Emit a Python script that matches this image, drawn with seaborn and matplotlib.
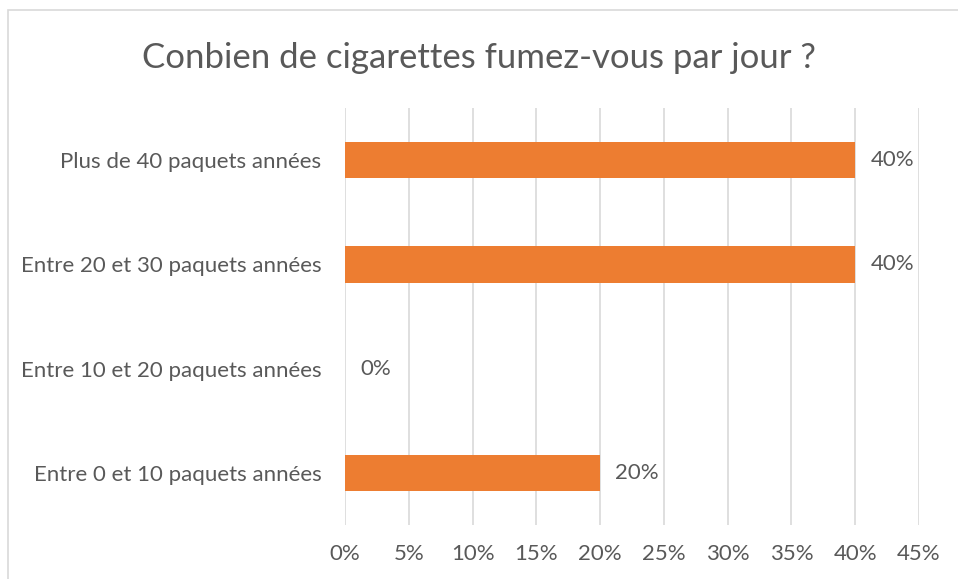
import matplotlib
matplotlib.use("Agg")
import matplotlib.pyplot as plt
import seaborn as sns
import pandas as pd
from matplotlib.patches import Rectangle
from matplotlib.ticker import FuncFormatter

# --- données ---
categories = ["Plus de 40 paquets années", "Entre 20 et 30 paquets années",
              "Entre 10 et 20 paquets années", "Entre 0 et 10 paquets années"]
valeurs = [0.40, 0.40, 0.0, 0.20]
ticks_x = [0, 0.05, 0.10, 0.15, 0.20, 0.25, 0.30, 0.35, 0.40, 0.45]

df = pd.DataFrame({"Categorie": categories, "Valeur": valeurs})

sns.set_theme(style="white")
plt.rcParams['font.family'] = ['Lato', 'DejaVu Sans']

gris_txt = "#595959"
gris_grid = "#D9D9D9"
orange = "#ED7D31"

fig = plt.figure(figsize=(9.58, 5.79), dpi=100)
W, H = 958, 579

# cadre du graphique (bord gauche + haut visibles)
fig.patches.append(Rectangle((8 / W, -0.1), 1.2, (579 - 10) / H + 0.1,
                             transform=fig.transFigure, fill=False,
                             edgecolor=gris_grid, linewidth=1.2))

ax = fig.add_axes([345 / W, (579 - 525) / H, (919 - 345) / W, (525 - 108) / H])
sns.barplot(data=df, x="Valeur", y="Categorie", orient="h", color=orange,
            width=0.35, saturation=1, linewidth=0, ax=ax)

ax.set_xlim(0, 0.45)
ax.set_ylim(3.5, -0.5)
ax.set_xticks(ticks_x)
ax.xaxis.set_major_formatter(FuncFormatter(lambda v, p: f"{v * 100:.0f}%"))
ax.grid(axis="x", color=gris_grid, linewidth=1.2)
ax.set_axisbelow(True)
for s in ax.spines.values():
    s.set_visible(False)
ax.tick_params(axis="both", length=0, labelsize=16, colors=gris_txt)
ax.tick_params(axis="x", pad=14)
ax.tick_params(axis="y", pad=17)
ax.set_xlabel("")
ax.set_ylabel("")

# étiquettes de données
for i, v in enumerate(valeurs):
    ax.annotate(f"{v * 100:.0f}%", xy=(v, i), xytext=(11, 0), textcoords="offset points",
                ha="left", va="center", fontsize=16, color=gris_txt)

fig.text(0.5, 1 - 58 / H, "Conbien de cigarettes fumez-vous par jour ?",
         ha="center", va="center", fontsize=25, color=gris_txt)

fig.savefig("out.png", dpi=100, facecolor="white")
